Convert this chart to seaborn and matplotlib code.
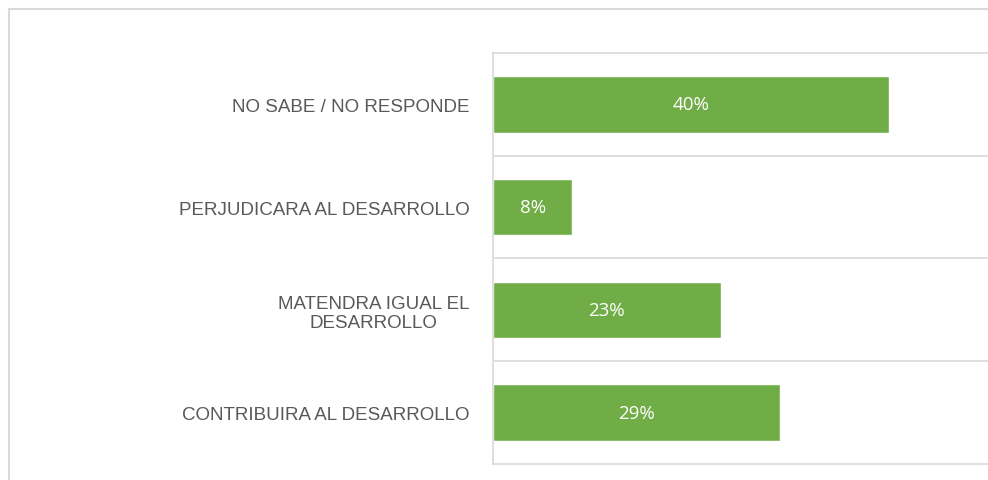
import pandas as pd
import seaborn as sns
import matplotlib.pyplot as plt
from matplotlib.lines import Line2D

# survey answers, top to bottom as in the chart
categories = ['NO SABE / NO RESPONDE', 'PERJUDICARA AL DESARROLLO',
              'MATENDRA IGUAL EL\nDESARROLLO', 'CONTRIBUIRA AL DESARROLLO']
shares = [0.40, 0.08, 0.23, 0.29]
value_labels = ['40%', '8%', '23%', '29%']

df = pd.DataFrame({'respuesta': categories, 'porcentaje': shares})

GREEN = '#70AD47'
GRID = '#D9D9D9'
TEXT = '#595959'

sns.set_style('white')
plt.rcParams['font.family'] = ['Liberation Sans', 'DejaVu Sans']

fig = plt.figure(figsize=(9.88, 4.81), dpi=100)
ax = fig.add_axes([0.499, 0.0333, 0.501, 0.8544])

sns.barplot(data=df, x='porcentaje', y='respuesta', color=GREEN,
            saturation=1, width=0.55, orient='h', ax=ax)

ax.set_xlim(0, 0.5)
ax.set_ylim(len(categories) - 0.5, -0.5)
ax.set_xlabel('')
ax.set_ylabel('')
ax.set_xticks([])

# gridlines between categories
for b in range(1, len(categories)):
    ax.axhline(b - 0.5, color=GRID, lw=1.2, zorder=0)

for side in ['top', 'bottom', 'left']:
    ax.spines[side].set_color(GRID)
    ax.spines[side].set_linewidth(1.2)
ax.spines['right'].set_visible(False)

ax.tick_params(axis='y', length=0, pad=17)
for lbl in ax.get_yticklabels():
    lbl.set_fontsize(13.5)
    lbl.set_color(TEXT)
    lbl.set_multialignment('center')

for i, (v, t) in enumerate(zip(shares, value_labels)):
    ax.text(v / 2, i, t, ha='center', va='center', color='white',
            fontsize=13.5, family='Open Sans')

# outer chart border
fig.add_artist(Line2D([9 / 988, 1], [1 - 10 / 481] * 2, color=GRID, lw=1.5,
                      transform=fig.transFigure))
fig.add_artist(Line2D([9 / 988] * 2, [0, 1 - 10 / 481], color=GRID, lw=1.5,
                      transform=fig.transFigure))

fig.savefig('out.png', dpi=100)
